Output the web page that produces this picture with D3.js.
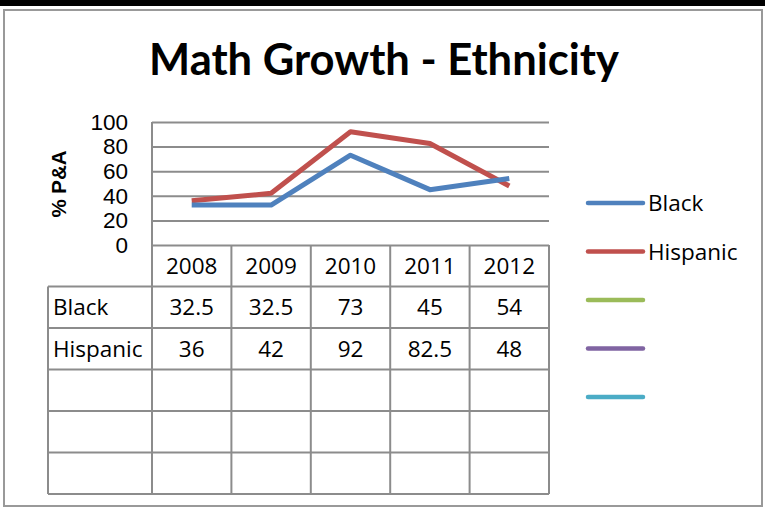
<!DOCTYPE html>
<html lang="en">
<head>
    <meta charset="utf-8">
    <title>Math Growth - Ethnicity</title>
    <script src="https://d3js.org/d3.v7.min.js"></script>
    <style>
        body { margin: 0; background: #fff; }
    </style>
</head>
<body>
<div id="chart"></div>
<script>
    // Data
    const years = ["2008", "2009", "2010", "2011", "2012"];
    const black = [32.5, 32.5, 73, 45, 54];
    const hispanic = [36, 42, 92, 82.5, 48];
    const seriesNames = ["Black", "Hispanic", "", "", ""];
    const seriesColors = ["#4F81BD", "#C0504D", "#9BBB59", "#8064A2", "#4BACC6"];
    const yTicks = [0, 20, 40, 60, 80, 100];

    const W = 765, H = 508;
    const titleFont = "Lato, 'Open Sans', sans-serif";
    const calibri = "'Open Sans', Lato, sans-serif";
    const arial = "'Liberation Sans', Arial, sans-serif";
    const gridColor = "#8c8c8c";
    const textSize = "22.5px";

    const svg = d3.select("#chart").append("svg")
        .attr("width", W)
        .attr("height", H);

    // black band at top and grey frame
    svg.append("rect").attr("x", 0).attr("y", 0).attr("width", W).attr("height", 6).attr("fill", "#000");
    svg.append("rect")
        .attr("x", 4).attr("y", 10)
        .attr("width", 758).attr("height", 496)
        .attr("fill", "#fff")
        .attr("stroke", "#999")
        .attr("stroke-width", 2);

    // title, sized to fit the width seen in the picture
    const title = svg.append("text")
        .attr("x", 384).attr("y", 75)
        .attr("text-anchor", "middle")
        .style("font-family", titleFont)
        .style("font-weight", "bold")
        .style("font-size", "40px")
        .text("Math Growth - Ethnicity");
    const tw = title.node().getComputedTextLength();
    title.style("font-size", (40 * 470 / tw) + "px");

    // scales
    const x = d3.scaleBand().domain(years).range([152, 549]).padding(0);
    const y = d3.scaleLinear().domain([0, 100]).range([245, 122]);
    const rowKeys = ["head", "Black", "Hispanic", "r3", "r4", "r5"];
    const row = d3.scaleBand().domain(rowKeys).range([245, 494]).padding(0);
    const cx = d => x(d) + x.bandwidth() / 2;

    // gridlines + y tick labels
    const yAxis = svg.append("g")
        .attr("transform", "translate(152,0)")
        .call(d3.axisLeft(y).tickValues(yTicks).tickSize(-(549 - 152)).tickPadding(24));
    yAxis.select(".domain").remove();
    yAxis.selectAll(".tick line")
        .attr("stroke", gridColor)
        .attr("stroke-width", 2);
    yAxis.selectAll(".tick text")
        .style("font-family", arial)
        .style("font-size", "22.5px")
        .attr("fill", "#000");

    // y axis title
    svg.append("text")
        .attr("transform", "translate(66,184) rotate(-90)")
        .attr("text-anchor", "middle")
        .style("font-family", arial)
        .style("font-weight", "bold")
        .style("font-size", "20.5px")
        .text("% P&A");

    // data table lines
    const grid = svg.append("g")
        .attr("stroke", gridColor)
        .attr("stroke-width", 2)
        .attr("fill", "none");
    // vertical lines of the plot and table
    const colEdges = years.map(d => x(d)).concat([x.range()[1]]);
    grid.selectAll("line.v")
        .data(colEdges)
        .join("line")
        .attr("class", "v")
        .attr("x1", d => d).attr("x2", d => d)
        .attr("y1", (d, i) => i === 0 ? y(100) : y(0))
        .attr("y2", row.range()[1]);
    // left border of the table body
    grid.append("line")
        .attr("x1", 48).attr("x2", 48)
        .attr("y1", row("Black")).attr("y2", row.range()[1]);
    // horizontal row lines
    const rowEdges = rowKeys.slice(1).map(d => row(d)).concat([row.range()[1]]);
    grid.selectAll("line.h")
        .data(rowEdges)
        .join("line")
        .attr("class", "h")
        .attr("x1", 48).attr("x2", 549)
        .attr("y1", d => d).attr("y2", d => d);

    // header (years)
    svg.append("g").selectAll("text")
        .data(years)
        .join("text")
        .attr("x", d => cx(d))
        .attr("y", row("head") + row.bandwidth() / 2 + 8)
        .attr("text-anchor", "middle")
        .style("font-family", calibri)
        .style("font-size", textSize)
        .text(d => d);

    // table body
    const tableRows = [{name: "Black", values: black}, {name: "Hispanic", values: hispanic}];
    tableRows.forEach(r => {
        const ty = row(r.name) + row.bandwidth() / 2 + 8;
        svg.append("text")
            .attr("x", 53).attr("y", ty)
            .style("font-family", calibri)
            .style("font-size", textSize)
            .text(r.name);
        svg.append("g").selectAll("text")
            .data(r.values)
            .join("text")
            .attr("x", (d, i) => cx(years[i]))
            .attr("y", ty)
            .attr("text-anchor", "middle")
            .style("font-family", calibri)
            .style("font-size", textSize)
            .text(d => d);
    });

    // lines
    const line = d3.line()
        .x((d, i) => cx(years[i]))
        .y(d => y(d));
    [hispanic, black].forEach((vals, k) => {
        svg.append("path")
            .datum(vals)
            .attr("d", line)
            .attr("fill", "none")
            .attr("stroke", k === 0 ? seriesColors[1] : seriesColors[0])
            .attr("stroke-width", 5)
            .attr("stroke-linejoin", "round");
    });

    // legend
    const legY = d3.scaleLinear().domain([0, 4]).range([203, 397]);
    const leg = svg.append("g").selectAll("g")
        .data(seriesNames)
        .join("g")
        .attr("transform", (d, i) => `translate(588,${legY(i)})`);
    leg.append("line")
        .attr("x1", 0).attr("x2", 55)
        .attr("stroke", (d, i) => seriesColors[i])
        .attr("stroke-width", 4.5)
        .attr("stroke-linecap", "round");
    leg.append("text")
        .attr("x", 60).attr("y", 8)
        .style("font-family", calibri)
        .style("font-size", textSize)
        .text(d => d);
</script>
</body>
</html>
